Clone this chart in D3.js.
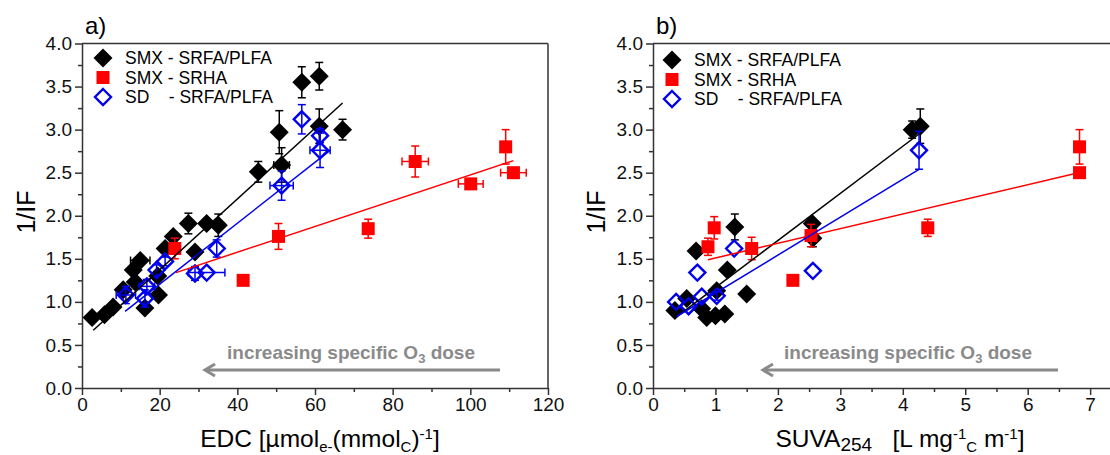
<!DOCTYPE html>
<html lang="en">
<head>
<meta charset="UTF-8">
<title>1/IF vs EDC and SUVA254</title>
<script src="https://cdn.jsdelivr.net/npm/d3@7"></script>
<style>
  body { margin: 0; background: #fff; }
  svg text { font-family: "Liberation Sans", Arial, sans-serif; }
</style>
</head>
<body>
<div id="container"></div>
<script>
// each point: [x, y, xErr, yErr]
// panel a) EDC
const edcSmxFa = [
  [2.6,0.82,0,0],[5.8,0.85,0,0.05],[8.0,0.94,0,0],[10.6,1.14,0,0],[13.2,1.37,0,0],
  [15,1.48,2.5,0.04],[13.7,1.23,0,0],[16.2,0.93,0,0],[19.7,1.08,0,0],[19.5,1.3,0,0.05],
  [21.4,1.62,0,0],[23.5,1.76,0,0.05],[27.4,1.91,0,0.12],[29.1,1.58,0,0],[32.1,1.91,0,0],
  [35.1,1.89,0,0.13],[45.4,2.51,0,0.12],[50.8,2.97,0,0.25],[51.4,2.59,2,0.2],
  [56.6,3.55,0,0.18],[61.1,3.62,0,0.16],[61.1,3.04,0,0.2],[67.1,3.0,0,0.12]
];
const edcSmxHa = [
  [23.9,1.62,0,0.12],[41.5,1.25,0,0],[50.6,1.76,0,0.15],[73.7,1.85,0,0.11],
  [85.8,2.63,3.4,0.18],[100.1,2.37,3.2,0.06],[109.1,2.8,0,0.2],[111.1,2.5,3.3,0.04]
];
const edcSdFa = [
  [11.3,1.08,2.5,0.1],[16.2,1.04,0,0.1],[16.7,1.18,2,0.08],[19.2,1.37,0,0.06],
  [21.4,1.47,0,0.05],[29.1,1.33,0,0.08],[32.1,1.34,4.7,0],[34.7,1.62,0,0.1],
  [51.4,2.35,3,0.17],[56.6,3.12,0,0.17],[61.3,2.93,0,0.08],[61.3,2.76,2.6,0.2]
];
// panel b) SUVA254
const suvaSmxFa = [
  [0.35,0.9,0,0],[0.54,1.04,0,0],[0.69,1.59,0,0],[0.78,0.92,0,0],[0.86,0.82,0,0],
  [1.0,0.84,0,0],[1.15,0.86,0,0],[1.02,1.13,0,0.05],[1.19,1.37,0,0],[1.31,1.87,0,0.15],
  [1.5,1.09,0,0],[2.55,1.91,0,0.05],[2.56,1.74,0,0.1],[4.15,3.0,0,0.1],[4.28,3.04,0,0.2]
];
const suvaSmxHa = [
  [0.88,1.64,0,0.1],[0.98,1.86,0,0.13],[1.58,1.62,0,0.13],[2.24,1.25,0,0],
  [2.53,1.77,0,0.13],[4.4,1.86,0,0.1],[6.83,2.8,0,0.2],[6.83,2.5,0,0.04]
];
const suvaSdFa = [
  [0.37,1.0,0,0],[0.57,0.95,0,0],[0.78,1.06,0,0],[0.71,1.34,0,0],
  [1.02,1.07,0,0.05],[1.3,1.62,0,0],[2.56,1.36,0,0],[4.26,2.76,0,0.22]
];
// linear fits: [xStart, xEnd, intercept, slope]  (order: SMX-FA, SMX-HA, SD-FA)
const edcFits = [[2.9,67.1,0.551,0.0411],[24.2,111.1,0.978,0.01496],[11.1,63.9,0.497,0.0354]];
const suvaFits = [[0.35,4.26,0.619,0.547],[0.88,6.83,1.34,0.17],[0.38,4.26,0.663,0.44]];

const legendNames = ["SMX - SRFA/PLFA", "SMX - SRHA", "SD    - SRFA/PLFA"];
const yTicks = [0, 0.5, 1, 1.5, 2, 2.5, 3, 3.5, 4];
const edcTicks = [0, 20, 40, 60, 80, 100, 120];
const suvaTicks = [0, 1, 2, 3, 4, 5, 6, 7];

const colors = ["#000000", "#ff0000", "#0000ee"];
const axisColor = "#333";

let svg = d3.select('#container')
  .append('svg')
  .attr('width', 1110)
  .attr('height', 455);

function diamond(r) {
  return "M0," + (-r) + "L" + r + ",0L0," + r + "L" + (-r) + ",0Z";
}

function drawMarker(g, kind, x, y) {
  if (kind === 0) {
    g.append("path").attr("d", diamond(9.5)).attr("transform", "translate(" + x + "," + y + ")")
      .attr("fill", colors[0]);
  } else if (kind === 1) {
    g.append("rect").attr("x", x - 6.5).attr("y", y - 6.5).attr("width", 13).attr("height", 13)
      .attr("fill", colors[1]);
  } else {
    g.append("path").attr("d", diamond(8)).attr("transform", "translate(" + x + "," + y + ")")
      .attr("fill", "none").attr("stroke", colors[2]).attr("stroke-width", 2.4);
  }
}

function drawPanel(opt) {
  let x = d3.scaleLinear().domain(opt.xDomain).range(opt.xRange);
  let y = d3.scaleLinear().domain([0, 4]).range([388, 43.5]);
  let g = svg.append("g");

  // minor ticks
  g.append("g").attr("transform", "translate(0,388)")
    .call(d3.axisBottom(x).tickValues(opt.minorX).tickSize(4).tickFormat(""))
    .call(a => a.select(".domain").remove());
  g.append("g").attr("transform", "translate(" + opt.xRange[0] + ",0)")
    .call(d3.axisLeft(y).tickValues(d3.range(0.25, 4, 0.5)).tickSize(4).tickFormat(""))
    .call(a => a.select(".domain").remove());

  // major axes
  let xa = g.append("g").attr("transform", "translate(0,388)")
    .call(d3.axisBottom(x).tickValues(opt.xTicks).tickSize(7).tickSizeOuter(0).tickPadding(3));
  let ya = g.append("g").attr("transform", "translate(" + opt.xRange[0] + ",0)")
    .call(d3.axisLeft(y).tickValues(yTicks).tickSize(7).tickSizeOuter(0).tickPadding(3)
      .tickFormat(d3.format(".1f")));
  [xa, ya].forEach(a => {
    a.selectAll("text").attr("font-size", 19).attr("fill", "#111")
      .style("font-family", '"Liberation Sans", Arial, sans-serif');
  });
  g.selectAll(".domain, .tick line").attr("stroke", axisColor).attr("stroke-width", 1.5);

  // top/right frame
  g.append("line").attr("x1", opt.xRange[0]).attr("x2", opt.xRange[1])
    .attr("y1", y(4)).attr("y2", y(4)).attr("stroke", axisColor).attr("stroke-width", 1.5);
  g.append("line").attr("x1", opt.xRange[1]).attr("x2", opt.xRange[1])
    .attr("y1", y(4)).attr("y2", y(0)).attr("stroke", axisColor).attr("stroke-width", 1.5);

  // panel label
  g.append("text").attr("x", opt.xRange[0] + 3).attr("y", 34)
    .attr("font-size", 24).text(opt.label);

  // y title
  g.append("text").attr("transform", "translate(" + opt.yTitleX + ",212) rotate(-90)")
    .attr("text-anchor", "middle").attr("font-size", 25).text("1/IF");

  // x title
  opt.xTitle(g.append("text").attr("x", opt.xTitleX).attr("y", 447)
    .attr("text-anchor", "middle").attr("font-size", 24.5));

  // arrow annotation
  let arrow = g.append("g").attr("stroke", "#8a8a8a").attr("stroke-width", 3).attr("fill", "none");
  arrow.append("line").attr("x1", opt.arrow[0]).attr("x2", opt.arrow[1]).attr("y1", 370).attr("y2", 370);
  arrow.append("path").attr("d", "M" + (opt.arrow[0] + 10) + ",364L" + opt.arrow[0] + ",370L" + (opt.arrow[0] + 10) + ",376");
  let at = g.append("text").attr("x", opt.arrowText).attr("y", 359)
    .attr("font-size", 19).attr("font-weight", "bold").attr("fill", "#8a8a8a");
  at.append("tspan").text("increasing specific O");
  at.append("tspan").attr("font-size", 13).attr("dy", 4).text("3");
  at.append("tspan").attr("dy", -4).text(" dose");

  // error bars, markers
  opt.series.forEach((data, k) => {
    let eg = g.append("g").attr("stroke", colors[k]).attr("stroke-width", 1.5);
    data.forEach(d => {
      let px = x(d[0]), py = y(d[1]);
      if (d[3] > 0) {
        let y1 = y(d[1] + d[3]), y2 = y(d[1] - d[3]);
        eg.append("line").attr("x1", px).attr("x2", px).attr("y1", y1).attr("y2", y2);
        eg.append("line").attr("x1", px - 4).attr("x2", px + 4).attr("y1", y1).attr("y2", y1);
        eg.append("line").attr("x1", px - 4).attr("x2", px + 4).attr("y1", y2).attr("y2", y2);
      }
      if (d[2] > 0) {
        let x1 = x(d[0] - d[2]), x2 = x(d[0] + d[2]);
        eg.append("line").attr("x1", x1).attr("x2", x2).attr("y1", py).attr("y2", py);
        eg.append("line").attr("x1", x1).attr("x2", x1).attr("y1", py - 4).attr("y2", py + 4);
        eg.append("line").attr("x1", x2).attr("x2", x2).attr("y1", py - 4).attr("y2", py + 4);
      }
    });
    let mg = g.append("g");
    data.forEach(d => drawMarker(mg, k, x(d[0]), y(d[1])));
  });

  // fit lines
  opt.fits.forEach((f, k) => {
    g.append("line")
      .attr("x1", x(f[0])).attr("y1", y(f[2] + f[3] * f[0]))
      .attr("x2", x(f[1])).attr("y2", y(f[2] + f[3] * f[1]))
      .attr("stroke", colors[k]).attr("stroke-width", 1.5);
  });

  // legend
  legendNames.forEach((name, k) => {
    let ly = opt.legendY + k * 19.5;
    drawMarker(g, k, opt.legendX, ly);
    g.append("text").attr("x", opt.legendX + 22).attr("y", ly + 6)
      .attr("font-size", 17.5).attr("xml:space", "preserve").style("white-space", "pre").text(name);
  });
}

drawPanel({
  label: "a)",
  xDomain: [0, 120], xRange: [82, 548],
  xTicks: edcTicks, minorX: d3.range(10, 120, 20),
  series: [edcSmxFa, edcSmxHa, edcSdFa], fits: edcFits,
  legendX: 103, legendY: 58,
  yTitleX: 35, xTitleX: 320,
  arrow: [205, 500], arrowText: 227,
  xTitle: t => {
    t.append("tspan").text("EDC [µmol");
    t.append("tspan").attr("font-size", 15).attr("dy", 5).text("e-");
    t.append("tspan").attr("dy", -5).text("(mmol");
    t.append("tspan").attr("font-size", 15).attr("dy", 5).text("C");
    t.append("tspan").attr("dy", -5).text(")");
    t.append("tspan").attr("font-size", 15).attr("dy", -8).text("-1");
    t.append("tspan").attr("dy", 8).text("]");
  }
});

drawPanel({
  label: "b)",
  xDomain: [0, 7.35], xRange: [653, 1112],
  xTicks: suvaTicks, minorX: d3.range(0.5, 7.35, 1),
  series: [suvaSmxFa, suvaSmxHa, suvaSdFa], fits: suvaFits,
  legendX: 672, legendY: 60,
  yTitleX: 605, xTitleX: 900,
  arrow: [763, 1058], arrowText: 784,
  xTitle: t => {
    t.append("tspan").text("SUVA");
    t.append("tspan").attr("font-size", 19).attr("dy", 4).text("254");
    t.append("tspan").attr("dy", -4).attr("xml:space", "preserve").text("   [L mg");
    t.append("tspan").attr("font-size", 15).attr("dy", -8).text("-1");
    t.append("tspan").attr("font-size", 15).attr("dy", 13).text("C");
    t.append("tspan").attr("dy", -5).text(" m");
    t.append("tspan").attr("font-size", 15).attr("dy", -8).text("-1");
    t.append("tspan").attr("dy", 8).text("]");
  }
});
</script>
</body>
</html>
